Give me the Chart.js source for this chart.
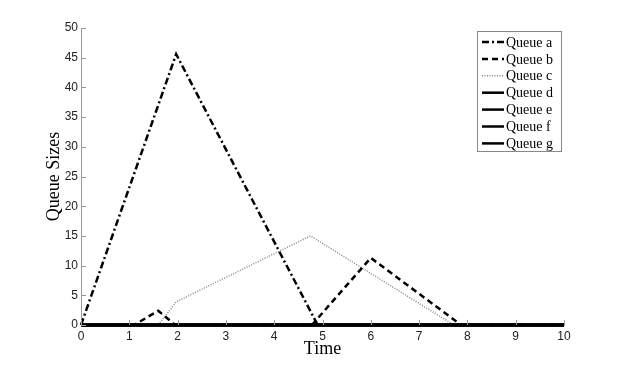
<!DOCTYPE html>
<html>
<head>
<meta charset="utf-8">
<script src="https://cdn.jsdelivr.net/npm/chart.js@4.4.1/dist/chart.umd.min.js"></script>
<style>
    html, body { margin: 0; padding: 0; background: #fff; }
    #wrap { width: 623px; height: 366px; }
</style>
</head>
<body>
<div id="wrap"><canvas id="queueChart" width="623" height="366"></canvas></div>
<script>
// Axis ticks
const timeTicks = [0, 1, 2, 3, 4, 5, 6, 7, 8, 9, 10];
const sizeTicks = [0, 5, 10, 15, 20, 25, 30, 35, 40, 45, 50];

const queueNames = ['Queue a', 'Queue b', 'Queue c', 'Queue d', 'Queue e', 'Queue f', 'Queue g'];

// Series
const aTimes = [0, 1.97, 4.9, 10];
const aSizes = [0, 45.6, 0, 0];
const bTimes = [0, 1.1, 1.6, 1.95, 4.78, 6.0, 7.87, 10];
const bSizes = [0, 0, 2.4, 0, 0, 11.3, 0, 0];
const cTimes = [0, 1.6, 1.97, 4.75, 7.72, 10];
const cSizes = [0, 0, 3.9, 15, 0, 0];
const dTimes = [0, 10];
const dSizes = [0, 0];
const eTimes = [0, 10];
const eSizes = [0, 0];
const fTimes = [0, 10];
const fSizes = [0, 0];
const gTimes = [0, 10];
const gSizes = [0, 0];

function toPoints(xs, ys) {
    return xs.map(function(x, i) { return { x: x, y: ys[i] }; });
}

const seriesTimes = [aTimes, bTimes, cTimes, dTimes, eTimes, fTimes, gTimes];
const seriesSizes = [aSizes, bSizes, cSizes, dSizes, eSizes, fSizes, gSizes];
const lineStyles = [
    { color: '#000', width: 2.5, dash: [7, 3, 2, 3] },
    { color: '#000', width: 2.5, dash: [6, 4] },
    { color: '#888', width: 1.5, dash: [1, 1.5] },
    { color: '#000', width: 3, dash: [] },
    { color: '#000', width: 3, dash: [] },
    { color: '#000', width: 3, dash: [] },
    { color: '#000', width: 3, dash: [] }
];

const datasets = queueNames.map(function(name, i) {
    return {
        label: name,
        data: toPoints(seriesTimes[i], seriesSizes[i]),
        borderColor: lineStyles[i].color,
        borderWidth: lineStyles[i].width,
        borderDash: lineStyles[i].dash,
        pointRadius: 0,
        tension: 0,
        fill: false,
        clip: 3,
        // solid queues sit on top, like the original plot
        order: lineStyles[i].dash.length ? 1 : 0
    };
});

// Inward tick marks
const tickMarks = {
    id: 'tickMarks',
    afterDraw: function(chart) {
        const ctx = chart.ctx;
        const xs = chart.scales.x, ys = chart.scales.y;
        const area = chart.chartArea;
        ctx.save();
        ctx.strokeStyle = '#999';
        ctx.lineWidth = 1;
        ctx.beginPath();
        timeTicks.forEach(function(t) {
            const px = Math.round(xs.getPixelForValue(t)) + 0.5;
            ctx.moveTo(px, area.bottom);
            ctx.lineTo(px, area.bottom - 5);
        });
        sizeTicks.forEach(function(v) {
            const py = Math.round(ys.getPixelForValue(v)) + 0.5;
            ctx.moveTo(area.left, py);
            ctx.lineTo(area.left + 5, py);
        });
        ctx.stroke();
        ctx.restore();
    }
};

// Boxed legend inside the plot
const boxLegend = {
    id: 'boxLegend',
    afterDraw: function(chart) {
        const ctx = chart.ctx;
        const left = 477, top = 31, right = 561, bottom = 151;
        ctx.save();
        ctx.fillStyle = '#fff';
        ctx.fillRect(left, top, right - left, bottom - top);
        ctx.strokeStyle = '#888';
        ctx.lineWidth = 1;
        ctx.strokeRect(left + 0.5, top + 0.5, right - left, bottom - top);
        ctx.font = '14px "Liberation Serif", serif';
        ctx.textBaseline = 'middle';
        ctx.fillStyle = '#000';
        chart.data.datasets.forEach(function(ds, i) {
            const y = 42 + i * 16.9;
            ctx.strokeStyle = ds.borderColor;
            ctx.lineWidth = Math.min(ds.borderWidth, 2.5);
            ctx.setLineDash(ds.borderDash);
            ctx.beginPath();
            ctx.moveTo(482, y);
            ctx.lineTo(504, y);
            ctx.stroke();
            ctx.setLineDash([]);
            ctx.fillText(ds.label, 506, y + 1);
        });
        ctx.restore();
    }
};

new Chart(document.getElementById('queueChart'), {
    type: 'line',
    data: { datasets: datasets },
    options: {
        responsive: false,
        animation: false,
        devicePixelRatio: 1,
        layout: { padding: { left: 0, right: 59, top: 28, bottom: 0 } },
        plugins: {
            legend: { display: false },
            tooltip: { enabled: false }
        },
        scales: {
            x: {
                type: 'linear',
                min: 0,
                max: 10,
                afterFit: function(scale) { scale.height = 41; },
                afterBuildTicks: function(scale) {
                    scale.ticks = timeTicks.map(function(v) { return { value: v }; });
                },
                grid: { display: false, drawTicks: false },
                border: { display: true, color: '#999', width: 1 },
                ticks: {
                    padding: 4,
                    color: '#222',
                    font: { family: '"Liberation Sans", sans-serif', size: 12 },
                    maxRotation: 0
                },
                title: {
                    display: true,
                    text: 'Time',
                    color: '#000',
                    font: { family: '"Liberation Serif", serif', size: 18 },
                    padding: { top: 0, bottom: 6 }
                }
            },
            y: {
                type: 'linear',
                min: 0,
                max: 50,
                afterFit: function(scale) { scale.width = 81; },
                afterBuildTicks: function(scale) {
                    scale.ticks = sizeTicks.map(function(v) { return { value: v }; });
                },
                grid: { display: false, drawTicks: false },
                border: { display: true, color: '#999', width: 1 },
                ticks: {
                    padding: 3,
                    color: '#222',
                    font: { family: '"Liberation Sans", sans-serif', size: 12 }
                },
                title: {
                    display: true,
                    text: 'Queue Sizes',
                    color: '#000',
                    font: { family: '"Liberation Serif", serif', size: 18 },
                    padding: { top: 43, bottom: 0 }
                }
            }
        }
    },
    plugins: [tickMarks, boxLegend]
});
</script>
</body>
</html>
